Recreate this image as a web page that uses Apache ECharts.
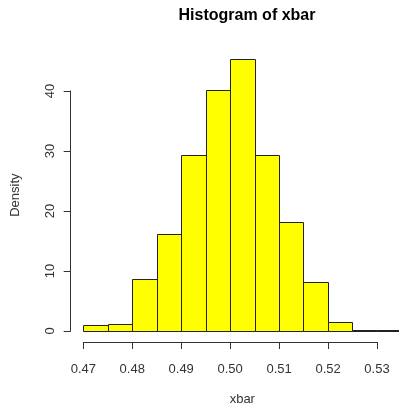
<!DOCTYPE html>
<html>
<head>
<meta charset="utf-8">
<script src="https://cdn.jsdelivr.net/npm/echarts@6/dist/echarts.min.js"></script>
<style>
html,body{margin:0;padding:0;background:#fff;overflow:hidden;width:399px;height:408px;}
#chart{width:430px;height:408px;}
</style>
</head>
<body>
<div id="chart"></div>
<script>
// Histogram bin edges and densities
var binStarts = [0.470, 0.475, 0.480, 0.485, 0.490, 0.495, 0.500, 0.505, 0.510, 0.515, 0.520, 0.525, 0.530];
var binWidth = 0.005;
var densities = [1.0, 1.1, 8.6, 16.1, 29.3, 40.1, 45.3, 29.4, 18.2, 8.2, 1.55, 0.1, 0.1];
var xTicks = [0.47, 0.48, 0.49, 0.50, 0.51, 0.52, 0.53];
var yTicks = [0, 10, 20, 30, 40];

var FONT = '"Liberation Sans", Arial, sans-serif';
var TXT = '#333';

// R-style 4% range extension
var xLo = binStarts[0], xHi = binStarts[binStarts.length - 1] + binWidth;
var yHi = Math.max.apply(null, densities);
var xPad = (xHi - xLo) * 0.04, yPad = yHi * 0.04;

var data = binStarts.map(function (s, i) { return [s, s + binWidth, densities[i]]; });

var chart = echarts.init(document.getElementById('chart'), null, {renderer: 'canvas'});
chart.setOption({
  animation: false,
  backgroundColor: '#fff',
  title: {
    text: 'Histogram of xbar',
    left: 242, top: 3, textAlign: 'center',
    textStyle: {fontFamily: FONT, fontSize: 16, fontWeight: 'bold', color: '#000'}
  },
  grid: [
    {left: 70.6, top: 48.3, width: 343.4, height: 293.6, containLabel: false, outerBoundsMode: 'none'},
    {left: 83.3, top: 342, width: 293.7, height: 0, containLabel: false, outerBoundsMode: 'none'},
    {left: 70.7, top: 91, width: 0, height: 240, containLabel: false, outerBoundsMode: 'none'}
  ],
  xAxis: [
    {gridIndex: 0, type: 'value', min: xLo - xPad, max: xHi + xPad, interval: 0.01,
     axisLine: {show: false}, axisTick: {show: false}, axisLabel: {show: false}, splitLine: {show: false},
     name: 'xbar', nameLocation: 'middle', nameGap: 51,
     nameTextStyle: {fontFamily: FONT, fontSize: 13, color: TXT}},
    {gridIndex: 1, type: 'value', min: xTicks[0], max: xTicks[xTicks.length - 1], interval: 0.01,
     position: 'bottom',
     axisLine: {show: true, onZero: false, lineStyle: {color: '#333', width: 1}},
     axisTick: {show: true, inside: false, length: 7, lineStyle: {color: '#333'}},
     axisLabel: {show: true, margin: 21, fontFamily: FONT, fontSize: 13, color: TXT,
       formatter: function (v) { return v.toFixed(2); }},
     splitLine: {show: false}},
    {gridIndex: 2, type: 'value', min: 0, max: 1, show: false}
  ],
  yAxis: [
    {gridIndex: 0, type: 'value', min: -yPad, max: yHi + yPad, interval: 10,
     axisLine: {show: false}, axisTick: {show: false}, axisLabel: {show: false}, splitLine: {show: false},
     name: 'Density', nameLocation: 'middle', nameGap: 49, nameRotate: 90,
     nameTextStyle: {fontFamily: FONT, fontSize: 13, color: TXT}},
    {gridIndex: 1, type: 'value', min: 0, max: 1, show: false},
    {gridIndex: 2, type: 'value', min: yTicks[0], max: yTicks[yTicks.length - 1], interval: 10,
     position: 'left',
     axisLine: {show: true, onZero: false, lineStyle: {color: '#333', width: 1}},
     axisTick: {show: true, inside: false, length: 7, lineStyle: {color: '#333'}},
     axisLabel: {show: true, rotate: 90, margin: 14, fontFamily: FONT, fontSize: 13, color: TXT},
     splitLine: {show: false}}
  ],
  series: [{
    type: 'custom',
    xAxisIndex: 0, yAxisIndex: 0,
    clip: true,
    data: data,
    renderItem: function (params, api) {
      var p0 = api.coord([api.value(0), api.value(2)]);
      var p1 = api.coord([api.value(1), 0]);
      var x0 = Math.round(p0[0]) + 0.5, x1 = Math.round(p1[0]) + 0.5;
      var y0 = Math.round(p0[1]) + 0.5, y1 = Math.round(p1[1]) + 0.5;
      return {
        type: 'rect',
        shape: {x: x0, y: y0, width: x1 - x0, height: y1 - y0},
        style: {fill: '#FFFF00', stroke: '#222', lineWidth: 1}
      };
    }
  }]
});
</script>
</body>
</html>
